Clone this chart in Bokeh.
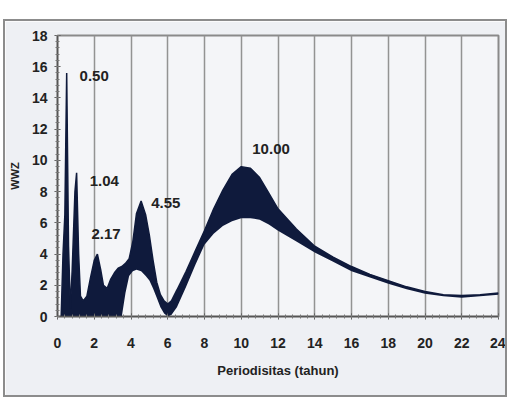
from bokeh.plotting import figure
from bokeh.models import ColumnDataSource, FixedTicker, Range1d, Label
from bokeh.embed import file_html
from bokeh.resources import INLINE

# Period (years) and the lower/upper envelopes of the WWZ band
period = [0.20, 0.30, 0.40, 0.50, 0.60, 0.70, 0.80, 0.95, 1.04, 1.15, 1.25, 1.40,
          1.60, 1.80, 2.00, 2.17, 2.35, 2.50, 2.70, 2.90, 3.10, 3.30, 3.50, 3.70,
          3.90, 4.10, 4.30, 4.55, 4.80, 5.00, 5.20, 5.40, 5.60, 5.80, 6.00, 6.20,
          6.50, 7.00, 7.50, 8.00, 8.50, 9.00, 9.50, 10.00, 10.50, 11.00, 11.50,
          12.00, 13.00, 14.00, 15.00, 16.00, 17.00, 18.00, 19.00, 20.00, 21.00,
          22.00, 23.00, 24.00]
wwz_upper = [0.0, 4.0, 6.5, 15.6, 4.5, 0.5, 3.0, 8.0, 9.2, 4.0, 1.3, 1.0,
             1.3, 2.5, 3.6, 4.0, 3.0, 2.0, 1.8, 2.4, 2.8, 3.1, 3.2, 3.4,
             3.7, 4.8, 6.6, 7.4, 6.5, 5.2, 3.6, 2.2, 1.4, 1.0, 0.8, 1.0,
             1.7, 2.9, 4.2, 5.5, 6.9, 8.1, 9.1, 9.6, 9.5, 8.9, 7.9,
             6.9, 5.6, 4.5, 3.8, 3.2, 2.7, 2.3, 1.9, 1.6, 1.4,
             1.35, 1.4, 1.5]
wwz_lower = [0.0, 0.0, 0.0, 0.0, 0.0, 0.0, 0.0, 0.0, 0.0, 0.0, 0.0, 0.0,
             0.0, 0.0, 0.0, 0.0, 0.0, 0.0, 0.0, 0.0, 0.0, 0.0, 0.0, 1.5,
             2.6, 2.9, 3.0, 2.9, 2.6, 2.3, 1.8, 1.2, 0.6, 0.2, 0.0, 0.1,
             0.6, 1.9, 3.3, 4.6, 5.3, 5.8, 6.1, 6.3, 6.3, 6.2, 5.9,
             5.5, 4.8, 4.1, 3.5, 2.9, 2.5, 2.1, 1.75, 1.45, 1.3,
             1.2, 1.3, 1.4]

# Dominant periods marked on the chart
peak_labels = ["0.50", "1.04", "2.17", "4.55", "10.00"]
label_x = [1.2, 1.75, 1.85, 5.1, 10.6]
label_y = [15.4, 8.7, 5.3, 7.3, 10.7]

x_ticks = list(range(0, 25, 2))
y_ticks = list(range(0, 19, 2))

FONT = "Liberation Sans"
INK = "#222222"
BAND = "#0f1a3c"

p = figure(width=500, height=374, margin=(21, 0, 0, 5),
           output_backend="svg", toolbar_location=None,
           x_range=Range1d(0, 24), y_range=Range1d(0, 18),
           min_border_left=51, min_border_right=7, min_border_top=14,
           min_border_bottom=79,
           styles={"outline": "2px solid #8c8c8c"})

p.background_fill_color = "#f4f5f8"
p.border_fill_color = "#eef0f4"
p.outline_line_color = "#8a8a8a"
p.outline_line_width = 2

src = ColumnDataSource(dict(x=period, lo=wwz_lower, hi=wwz_upper))
p.varea(x="x", y1="lo", y2="hi", source=src, fill_color=BAND)
p.line(x="x", y="hi", source=src, line_color=BAND, line_width=1.5)

# vertical grid only
p.xgrid.ticker = FixedTicker(ticks=x_ticks)
p.xgrid.grid_line_color = "#939393"
p.xgrid.grid_line_width = 1.5
p.ygrid.grid_line_color = None

p.xaxis.ticker = FixedTicker(ticks=x_ticks, minor_ticks=[i * 0.4 for i in range(61)])
p.yaxis.ticker = FixedTicker(ticks=y_ticks, minor_ticks=[i * 0.4 for i in range(46)])

for ax in (p.xaxis[0], p.yaxis[0]):
    ax.axis_line_color = "#555555"
    ax.axis_line_width = 1.5
    ax.major_tick_line_color = "#555555"
    ax.minor_tick_line_color = "#777777"
    ax.major_tick_in = 3
    ax.major_tick_out = 3
    ax.minor_tick_in = 2
    ax.minor_tick_out = 2
    ax.major_label_text_font = FONT
    ax.major_label_text_font_style = "bold"
    ax.major_label_text_font_size = "14px"
    ax.major_label_text_color = INK
    ax.axis_label_text_font = FONT
    ax.axis_label_text_font_style = "bold"
    ax.axis_label_text_color = INK

p.xaxis.axis_label = "Periodisitas (tahun)"
p.xaxis.axis_label_text_font_size = "13px"
p.xaxis.major_label_standoff = 18
p.xaxis.axis_label_standoff = 12
p.yaxis.axis_label = "WWZ"
p.yaxis.axis_label_text_font_size = "11px"
p.yaxis.major_label_standoff = 7
p.yaxis.axis_label_standoff = 8

for txt, lx, ly in zip(peak_labels, label_x, label_y):
    p.add_layout(Label(x=lx, y=ly, text=txt, text_font=FONT, text_font_style="bold",
                       text_font_size="15px", text_color=INK,
                       text_baseline="middle", text_align="left"))

open("out.html", "w").write(file_html(p, INLINE))
